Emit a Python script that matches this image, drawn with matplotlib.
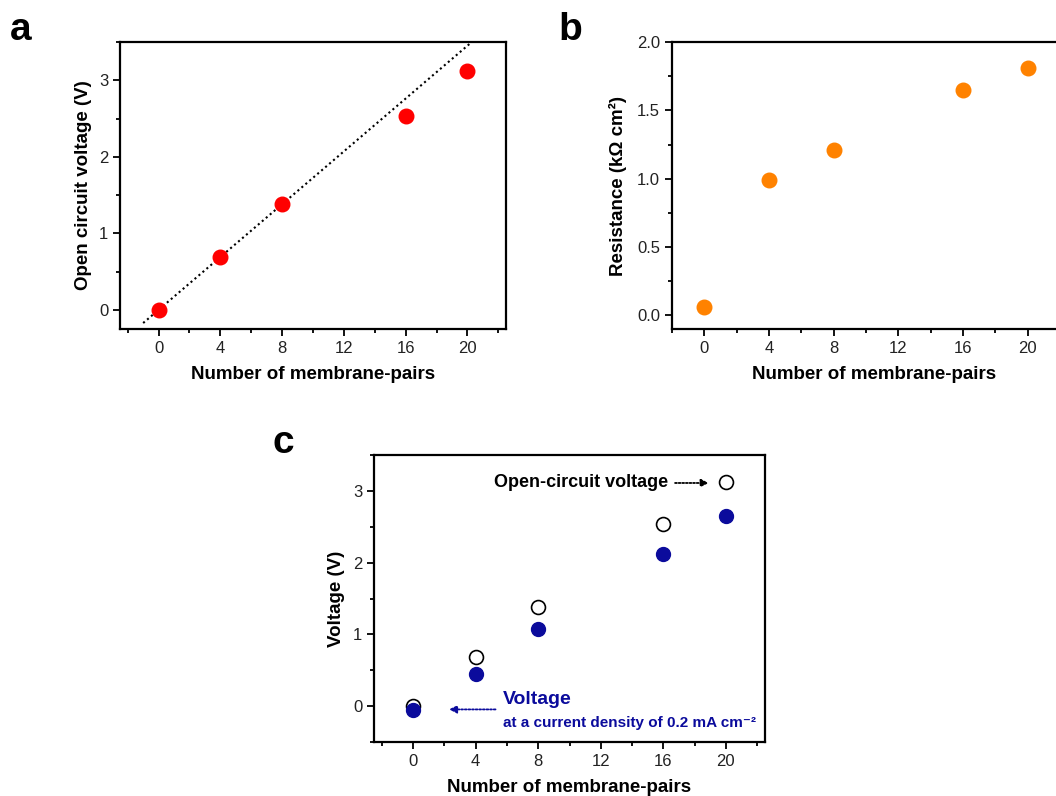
import matplotlib
matplotlib.use("Agg")
import matplotlib.pyplot as plt
from matplotlib.ticker import MultipleLocator

plt.rcParams["font.family"] = ["Liberation Sans", "DejaVu Sans"]

# data
pairs = [0, 4, 8, 16, 20]
ocv = [0.0, 0.69, 1.386, 2.538, 3.118]
resistance = [0.061, 0.993, 1.212, 1.646, 1.81]
v_load = [-0.056, 0.447, 1.075, 2.117, 2.647]
ideal_x = [-1.0, 20.4]
ideal_y = [-0.172, 3.52]

W, H = 1056, 796
BLUE = "#0b0b9c"


def px_axes(fig, left, top, right, bottom):
    return fig.add_axes([left / W, 1 - bottom / H, (right - left) / W, (bottom - top) / H])


def style(ax, xlim, ylim, ymaj, ymin):
    ax.set_xlim(*xlim)
    ax.set_ylim(*ylim)
    ax.xaxis.set_major_locator(MultipleLocator(4))
    ax.xaxis.set_minor_locator(MultipleLocator(2))
    ax.yaxis.set_major_locator(MultipleLocator(ymaj))
    ax.yaxis.set_minor_locator(MultipleLocator(ymin))
    for s in ax.spines.values():
        s.set_linewidth(1.6)
    ax.tick_params(which="both", direction="out", width=1.3, top=False, right=False,
                   labelsize=12, labelcolor="#222222")
    ax.tick_params(which="major", length=5)
    ax.tick_params(which="minor", length=3)
    ax.set_xlabel("Number of membrane-pairs", fontsize=13.5, fontweight="bold", labelpad=7)


fig = plt.figure(figsize=(W / 100, H / 100), dpi=100)

# panel a
ax_a = px_axes(fig, 120, 42, 506, 329)
ax_a.plot(ideal_x, ideal_y, color="black", linestyle=(0, (1, 1.5)), linewidth=1.5)
ax_a.scatter(pairs, ocv, s=110, color="#ff0000", zorder=3)
style(ax_a, (-2.5, 22.5), (-0.25, 3.5), 1, 0.5)
ax_a.yaxis.set_major_formatter(plt.FormatStrFormatter("%d"))
ax_a.set_ylabel("Open circuit voltage (V)", fontsize=13.5, fontweight="bold")
ax_a.yaxis.set_label_coords(-0.072, 0.5)

# panel b
ax_b = px_axes(fig, 672, 42, 1076, 329)
ax_b.scatter(pairs, resistance, s=110, color="#ff8200", zorder=3)
style(ax_b, (-2, 23), (-0.1, 2.0), 0.5, 0.25)
ax_b.yaxis.set_major_formatter(plt.FormatStrFormatter("%.1f"))
ax_b.set_ylabel("Resistance (kΩ cm²)", fontsize=13.5, fontweight="bold")
ax_b.yaxis.set_label_coords(-0.111, 0.5)

# panel c
ax_c = px_axes(fig, 374, 455, 765, 742)
ax_c.scatter(pairs, ocv, s=100, facecolor="white", edgecolor="black", linewidth=1.2, zorder=3)
ax_c.scatter(pairs, v_load, s=100, color=BLUE, zorder=4)
style(ax_c, (-2.5, 22.5), (-0.5, 3.5), 1, 0.5)
ax_c.yaxis.set_major_formatter(plt.FormatStrFormatter("%d"))
ax_c.set_ylabel("Voltage (V)", fontsize=13.5, fontweight="bold")
ax_c.yaxis.set_label_coords(-0.074, 0.5)

ax_c.text(16.3, 3.11, "Open-circuit voltage", ha="right", va="center",
          fontsize=13, fontweight="bold", color="black")
ax_c.annotate("", xy=(18.9, 3.11), xytext=(16.75, 3.11),
              arrowprops=dict(arrowstyle="-|>", color="black", linestyle=(0, (1, 1)),
                              linewidth=1.3, mutation_scale=11, shrinkA=0, shrinkB=0))
ax_c.text(5.72, 0.09, "Voltage", ha="left", va="center",
          fontsize=14, fontweight="bold", color=BLUE)
ax_c.text(5.72, -0.23, "at a current density of 0.2 mA cm⁻²", ha="left", va="center",
          fontsize=11, fontweight="bold", color=BLUE)
ax_c.annotate("", xy=(2.3, -0.046), xytext=(5.27, -0.046),
              arrowprops=dict(arrowstyle="-|>", color=BLUE, linestyle=(0, (1, 1)),
                              linewidth=1.3, mutation_scale=11, shrinkA=0, shrinkB=0))

# panel letters
fig.text(10 / W, 1 - 40 / H, "a", fontsize=28, fontweight="bold")
fig.text(558 / W, 1 - 40 / H, "b", fontsize=28, fontweight="bold")
fig.text(273 / W, 1 - 453 / H, "c", fontsize=28, fontweight="bold")

fig.savefig("out.png", dpi=100)
